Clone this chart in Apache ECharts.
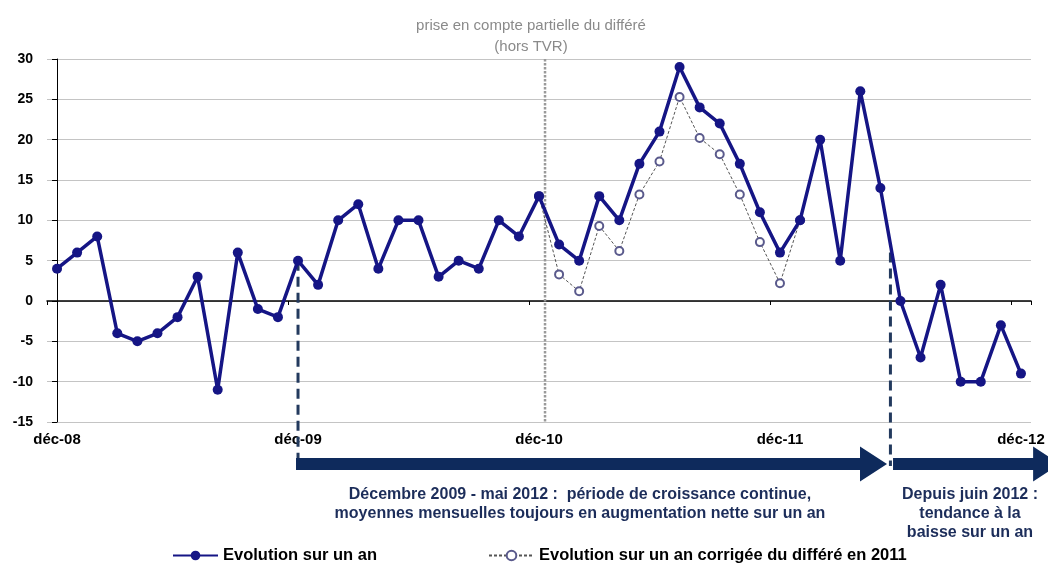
<!DOCTYPE html>
<html>
<head>
<meta charset="utf-8">
<script src="https://cdn.jsdelivr.net/npm/echarts@6/dist/echarts.min.js"></script>
<style>html,body{margin:0;padding:0;background:#fff;}#c{width:1048px;height:581px;}</style>
</head>
<body>
<div id="c"></div>
<script>
// ---- data ----
const months = ['déc-08','janv-09','févr-09','mars-09','avr-09','mai-09','juin-09','juil-09','août-09','sept-09','oct-09','nov-09',
  'déc-09','janv-10','févr-10','mars-10','avr-10','mai-10','juin-10','juil-10','août-10','sept-10','oct-10','nov-10',
  'déc-10','janv-11','févr-11','mars-11','avr-11','mai-11','juin-11','juil-11','août-11','sept-11','oct-11','nov-11',
  'déc-11','janv-12','févr-12','mars-12','avr-12','mai-12','juin-12','juil-12','août-12','sept-12','oct-12','nov-12','déc-12'];
const evolution = [4,6,8,-4,-5,-4,-2,3,-11,6,-1,-2,
  5,2,10,12,4,10,10,3,5,4,10,8,
  13,7,5,13,10,17,21,29,24,22,17,11,
  6,10,20,5,26,14,0,-7,2,-10,-10,-3,-9];
const corrected = [null,null,null,null,null,null,null,null,null,null,null,null,
  null,null,null,null,null,null,null,null,null,null,null,null,
  13,3.3,1.2,9.3,6.2,13.2,17.3,25.3,20.2,18.2,13.2,7.3,
  2.2,10,null,null,null,null,null,null,null,null,null,null,null];
const yTicks = {min:-15, max:30, interval:5};
// annotations (in month-index units)
const dashedLines = [[12, 5], [41.5, 6]];      // [x index, top value]
const dottedLine = [24.3];
const arrows = [[11.9, 41.33], [41.63, 49.95]]; // [start index, tip index]
const note1 = ['Décembre 2009 - mai 2012 :  période de croissance continue,', 'moyennes mensuelles toujours en augmentation nette sur un an'];
const note2 = ['Depuis juin 2012 :', 'tendance à la', 'baisse sur un an'];

const FONT = "'Liberation Sans', Arial, sans-serif";
const NAVY = '#151585';
const ARROW = '#0e2a5c';

const chart = echarts.init(document.getElementById('c'), null, {renderer:'canvas'});
chart.setOption({
  animation: false,
  backgroundColor: '#fff',
  title: {
    text: 'prise en compte partielle du différé\n(hors TVR)',
    left: 526, top: 10, textAlign: 'center',
    textStyle: {fontFamily: FONT, fontSize: 15, fontWeight: 'normal', color: '#8a8a8a', lineHeight: 21}
  },
  grid: {left: 47, right: 17, top: 59, bottom: 159, containLabel: false},
  legend: {
    left: 167, top: 542, itemGap: 111, itemWidth: 45, itemHeight: 12,
    textStyle: {fontFamily: FONT, fontSize: 16.5, fontWeight: 'bold', color: '#000'},
    data: ['Evolution sur un an', 'Evolution sur un an corrigée du différé en 2011']
  },
  xAxis: [
    {type: 'category', data: months, boundaryGap: true,
     axisLine: {onZero: true, lineStyle: {color: '#000', width: 1.5}},
     axisTick: {show: true, interval: 11, length: 4, lineStyle: {color: '#000'}},
     axisLabel: {show: false}, splitLine: {show: false}},
    {type: 'category', data: months, boundaryGap: true, position: 'bottom',
     axisLine: {show: false, onZero: false}, axisTick: {show: false},
     axisLabel: {interval: 11, margin: 10, fontFamily: FONT, fontSize: 15, fontWeight: 'bold', color: '#000'}},
    {type: 'value', min: -0.5, max: 48.5, show: false}
  ],
  yAxis: {
    type: 'value', min: yTicks.min, max: yTicks.max, interval: yTicks.interval,
    axisLine: {show: true, lineStyle: {color: '#000', width: 1}},
    axisTick: {show: true, length: 5, lineStyle: {color: '#000'}},
    axisLabel: {margin: 14, fontFamily: FONT, fontSize: 14, fontWeight: 'bold', color: '#000'},
    splitLine: {lineStyle: {color: '#c4c4c4', width: 1}}
  },
  series: [
    {
      type: 'custom', xAxisIndex: 2, yAxisIndex: 0, clip: false, silent: true, z: 1,
      data: dottedLine.map(x => [x]),
      renderItem: function (params, api) {
        const a = api.coord([api.value(0), yTicks.max]);
        const b = api.coord([api.value(0), yTicks.min]);
        return {type: 'line', shape: {x1: a[0], y1: a[1], x2: b[0], y2: b[1]},
          style: {stroke: '#9a9a9a', lineWidth: 2.5, lineDash: [2.5, 1.5]}};
      }
    },
    {
      type: 'custom', xAxisIndex: 2, yAxisIndex: 0, clip: false, silent: true, z: 1,
      data: dashedLines,
      renderItem: function (params, api) {
        const a = api.coord([api.value(0), api.value(1)]);
        const b = api.coord([api.value(0), yTicks.min]);
        return {type: 'line', shape: {x1: a[0], y1: a[1], x2: b[0], y2: b[1] + 44},
          style: {stroke: '#233a5e', lineWidth: 3, lineDash: [10, 6]}};
      }
    },
    {
      type: 'custom', xAxisIndex: 2, yAxisIndex: 0, clip: false, silent: true, z: 3,
      data: arrows,
      renderItem: function (params, api) {
        const p0 = api.coord([api.value(0), yTicks.min]);
        const p1 = api.coord([api.value(1), yTicks.min]);
        const y = p0[1] + 42, hl = 27, hw = 17.5, sw = 6;
        const x0 = p0[0], x1 = p1[0];
        return {type: 'polygon', shape: {points: [
          [x0, y - sw], [x1 - hl, y - sw], [x1 - hl, y - hw], [x1, y], [x1 - hl, y + hw], [x1 - hl, y + sw], [x0, y + sw]
        ]}, style: {fill: ARROW}};
      }
    },
    {
      name: 'Evolution sur un an corrigée du différé en 2011',
      type: 'line', xAxisIndex: 0, yAxisIndex: 0, data: corrected, z: 4,
      connectNulls: false,
      symbol: 'emptyCircle', symbolSize: 8, showSymbol: true, showAllSymbol: true,
      lineStyle: {color: '#555', width: 1, type: [3, 2]},
      itemStyle: {color: '#5a5a8c', borderColor: '#5a5a8c', borderWidth: 1}
    },
    {
      name: 'Evolution sur un an',
      type: 'line', xAxisIndex: 0, yAxisIndex: 0, data: evolution, z: 5,
      symbol: 'circle', symbolSize: 10, showSymbol: true, showAllSymbol: true,
      lineStyle: {color: NAVY, width: 3.5},
      itemStyle: {color: NAVY}
    }
  ],
  graphic: [
    {type: 'text', x: 580, y: 485, style: {text: note1.join('\n'), textAlign: 'center',
      fill: '#1c2d5a', font: "bold 16px 'Liberation Sans', Arial, sans-serif", lineHeight: 19}},
    {type: 'text', x: 970, y: 485, style: {text: note2.join('\n'), textAlign: 'center',
      fill: '#1c2d5a', font: "bold 16px 'Liberation Sans', Arial, sans-serif", lineHeight: 19}}
  ]
});
</script>
</body>
</html>
